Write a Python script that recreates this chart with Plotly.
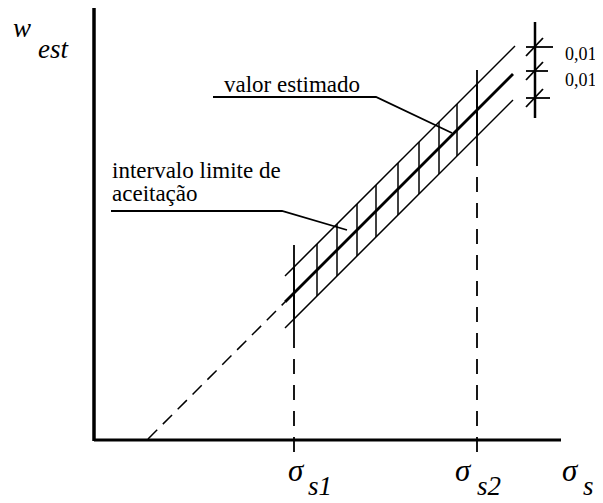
import plotly.graph_objects as go

# schematic values (sigma_s along x, w_est along y)
sigma_end = 4.67          # end of the sigma axis
w_top = 4.32              # top of the w_est axis
sigma_s1 = 2.00
sigma_s2 = 3.83

# estimated line w = sigma - 0.53
est_dash_sigma = [0.54, 1.91]
est_dash_w = [0.01, 1.38]
est_solid_sigma = [1.91, 4.19]
est_solid_w = [1.38, 3.66]
band_half = 0.26          # the 0.01 interval shown on the scale

# hatch positions and estimated value there
hatch_sigma = [2.00, 2.23, 2.43, 2.63, 2.82, 3.04, 3.25, 3.45, 3.63, 3.83]
hatch_w = [1.47, 1.70, 1.90, 2.10, 2.29, 2.51, 2.72, 2.92, 3.10, 3.30]

# long marks at sigma_s1 / sigma_s2
s_marks_sigma = [sigma_s1, sigma_s2]
s_marks_top = [1.95, 3.70]
s_marks_bot = [1.07, 2.83]

# leaders
lead_est_sigma = [1.19, 2.82, 3.58]
lead_est_w = [3.43, 3.43, 3.07]
lead_int_sigma = [0.17, 1.88, 2.53]
lead_int_w = [2.29, 2.29, 2.10]

# scale at right
scale_sigma = 4.41
scale_w = [4.18, 3.22]
tick_w = [3.93, 3.69, 3.42]
tick_right = [4.59, 4.54, 4.56]
tick_labels = ["0,01", "0,01"]
tick_label_w = [3.86, 3.60]

SERIF = "Liberation Serif, Times New Roman, serif"
fig = go.Figure()


def seg(xs, ys, width=1.5, dash="solid"):
    fig.add_trace(go.Scatter(x=xs, y=ys, mode="lines",
                             line=dict(color="black", width=width, dash=dash),
                             hoverinfo="skip", showlegend=False))


# axes
seg([0, 0], [-0.01, w_top], width=3.5)
seg([0, sigma_end], [0, 0], width=3)

# estimated line
seg(est_dash_sigma, est_dash_w, width=1.5, dash="13px,8px")
seg(est_solid_sigma, est_solid_w, width=2.8)
# upper / lower limits
seg([est_solid_sigma[0], est_solid_sigma[1] + 0.02],
    [est_solid_w[0] + band_half, est_solid_w[1] + 0.02 + band_half])
seg(est_solid_sigma, [est_solid_w[0] - band_half, est_solid_w[1] - band_half])

# hatches
hx, hy = [], []
for s, w in zip(hatch_sigma, hatch_w):
    hx += [s, s, None]
    hy += [w - band_half, w + band_half, None]
seg(hx, hy)

# sigma_s1 / sigma_s2 marks
for s, t, b in zip(s_marks_sigma, s_marks_top, s_marks_bot):
    seg([s, s], [b, t], width=1.8)
    seg([s, s], [-0.12, b], width=1.8, dash="15px,11px")

# leaders
seg(lead_est_sigma, lead_est_w, width=1.8)
seg(lead_int_sigma, lead_int_w, width=1.8)

# scale
seg([scale_sigma, scale_sigma], scale_w, width=2.5)
for w, r in zip(tick_w, tick_right):
    seg([scale_sigma - 0.09, r], [w, w], width=1.8)
    seg([scale_sigma - 0.09, scale_sigma + 0.08], [w - 0.09, w + 0.09], width=1.8)

ann = [
    dict(x=1.28, y=3.56, text="valor estimado", size=23),
    dict(x=0.16, y=2.70, text="intervalo limite de", size=23),
    dict(x=0.16, y=2.47, text="aceitação", size=23),
    dict(x=-0.83, y=4.12, text="<i>w</i>", size=27),
    dict(x=-0.58, y=3.91, text="<i>est</i>", size=27),
    dict(x=1.92, y=-0.30, text="<i>σ</i>", size=31),
    dict(x=2.12, y=-0.46, text="<i>s1</i>", size=27),
    dict(x=3.59, y=-0.30, text="<i>σ</i>", size=31),
    dict(x=3.81, y=-0.46, text="<i>s2</i>", size=27),
    dict(x=4.66, y=-0.30, text="<i>σ</i>", size=31),
    dict(x=4.87, y=-0.46, text="<i>s</i>", size=27),
]
for t, w in zip(tick_labels, tick_label_w):
    ann.append(dict(x=4.69, y=w, text=t, size=18))
for a in ann:
    fig.add_annotation(x=a["x"], y=a["y"], text=a["text"], showarrow=False,
                       xanchor="left", yanchor="middle",
                       font=dict(family=SERIF, size=a["size"], color="black"))

# page body margin shifts the figure by 8px, so size and ranges allow for it
fig.update_xaxes(range=[-0.86, 5.09], visible=False)
fig.update_yaxes(range=[-0.63, 4.32], visible=False)
fig.update_layout(width=595, height=495, margin=dict(l=0, r=0, t=0, b=0),
                  plot_bgcolor="white", paper_bgcolor="white", showlegend=False)
fig.write_html("out.html")
